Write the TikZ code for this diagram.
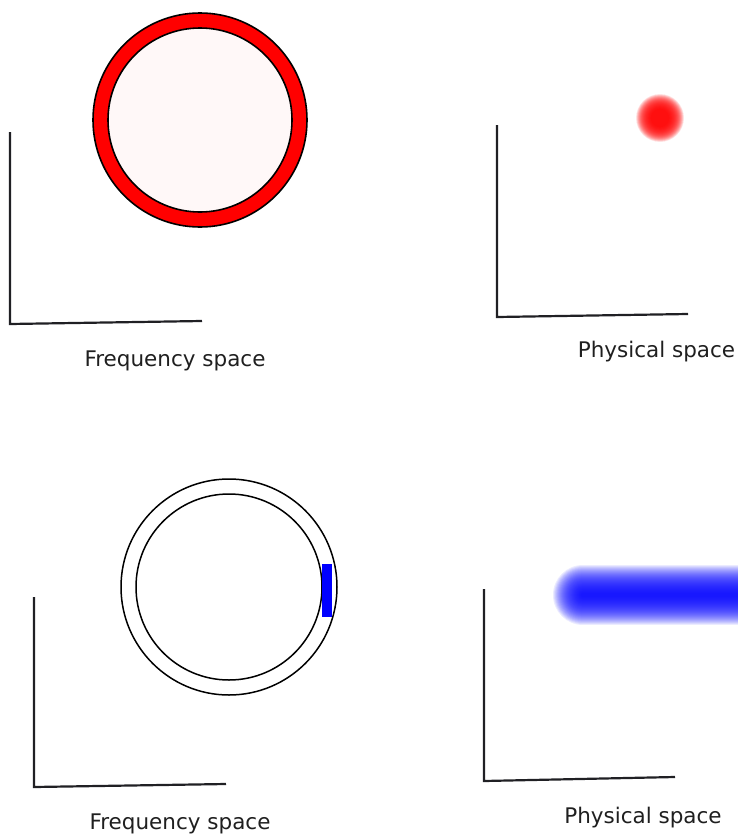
\documentclass[tikz,border=0pt]{standalone}
\usepackage{fontspec}
\setmainfont{DejaVu Sans}
\definecolor{ringfill}{HTML}{FFF8F8}
\definecolor{axisgray}{HTML}{202024}
\tikzset{
  axis/.style={line width=2.2pt, axisgray},
  ring/.style={line width=1.6pt, black},
  caption/.style={anchor=base, inner sep=0pt, text=black!88, font=\fontsize{21.5}{24}\selectfont},
}

\begin{document}
\begin{tikzpicture}[x=1pt, y=-1pt]
  \useasboundingbox (0,0) rectangle (738,835);

  % Frequency space (top): full ring
  \draw[ring, fill=red] (200,120) circle (107pt);
  \draw[ring, fill=ringfill] (200,120) circle (92pt);
  \draw[axis] (10,132) -- (10,324) -- (202,321);
  \node[caption] (freqtop) at (175,366.5) {Frequency space};

  % Physical space (top): blurred spot
  \foreach \r in {24,23.5,...,9}
    \fill[red, opacity=0.085] (660,118) circle (\r pt);
  \draw[axis] (497,125) -- (497,317) -- (688,314);
  \node[caption] (phystop) at (656.5,357.7) {Physical space};

  % Frequency space (bottom): empty ring with one patch
  \draw[line width=1.5pt] (229,587) circle (108pt);
  \draw[line width=1.5pt] (229,587) circle (93pt);
  \fill[blue] (322,564) rectangle (332,617);
  \draw[axis] (34,597) -- (34,787) -- (226,784);
  \node[caption] (freqbot) at (180,829.5) {Frequency space};

  % Physical space (bottom): blurred streak
  \begin{scope}
    \clip (0,0) rectangle (738,835);
    \foreach \w in {60,58,...,4}
      \draw[blue, line width=\w pt, line cap=round, opacity=0.08] (583,595) -- (800,595);
  \end{scope}
  \draw[axis] (484,589) -- (484,781) -- (675,777);
  \node[caption] (physbot) at (643,823) {Physical space};
\end{tikzpicture}
\end{document}
